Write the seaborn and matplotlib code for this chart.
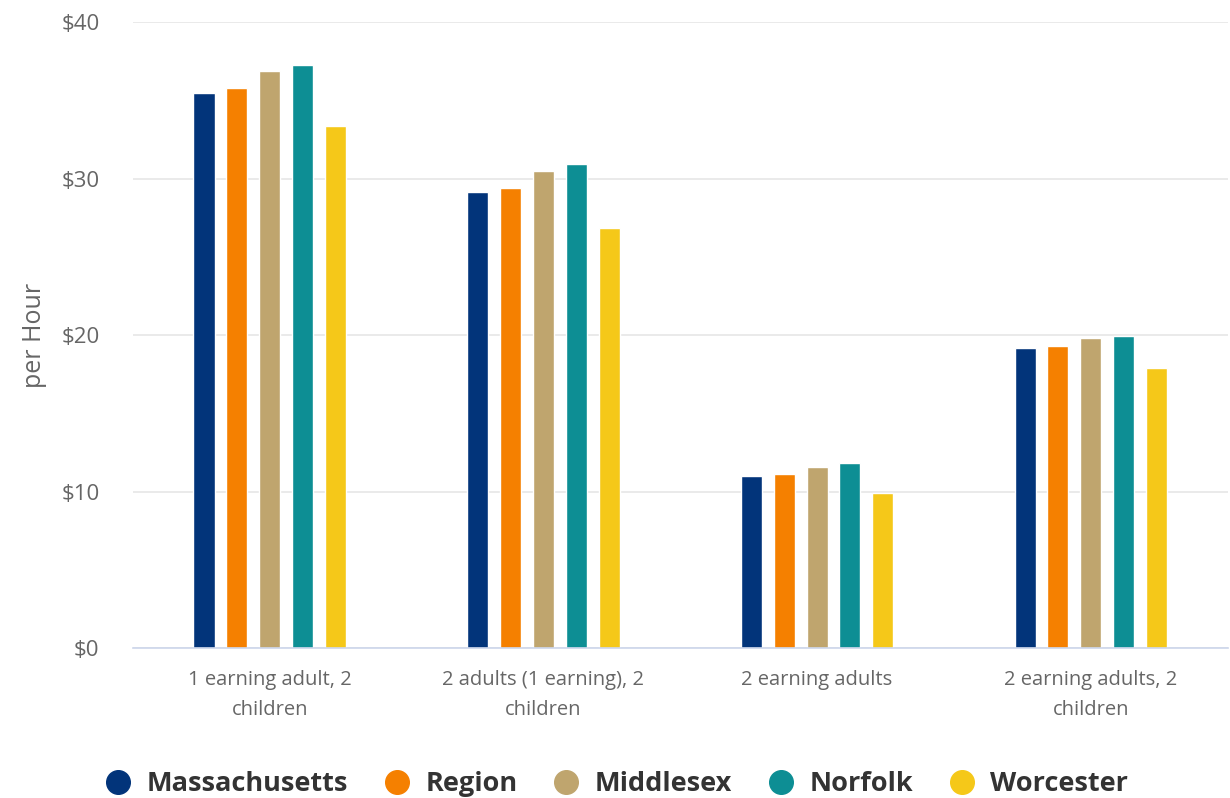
"""Grouped bar chart: hourly living wage by household type and area."""

import matplotlib

matplotlib.use("Agg")
import matplotlib.pyplot as plt
import matplotlib.ticker as mticker
from matplotlib.lines import Line2D
import pandas as pd
import seaborn as sns

households = [
    "1 earning adult, 2\nchildren",
    "2 adults (1 earning), 2\nchildren",
    "2 earning adults",
    "2 earning adults, 2\nchildren",
]
areas = ["Massachusetts", "Region", "Middlesex", "Norfolk", "Worcester"]

massachusetts = [35.5, 29.15, 11.0, 19.15]
region = [35.8, 29.4, 11.1, 19.3]
middlesex = [36.9, 30.5, 11.55, 19.8]
norfolk = [37.3, 30.95, 11.8, 19.95]
worcester = [33.35, 26.85, 9.9, 17.9]

y_ticks = [0, 10, 20, 30, 40]

colors = ["#02347A", "#F58000", "#BFA56E", "#0D8E94", "#F5C819"]

series = [massachusetts, region, middlesex, norfolk, worcester]
rows = []
for area, vals in zip(areas, series):
    for hh, v in zip(households, vals):
        rows.append({"household": hh, "area": area, "wage": v})
df = pd.DataFrame(rows)

sns.set_style("white")
plt.rcParams["font.family"] = ["Open Sans", "DejaVu Sans"]

fig = plt.figure(figsize=(12.3, 7.98), dpi=100)
ax = fig.add_axes([0.108, 0.188, 0.89, 0.784])

sns.barplot(
    data=df,
    x="household",
    y="wage",
    hue="area",
    hue_order=areas,
    order=households,
    palette=colors,
    width=0.6,
    gap=0.36,
    saturation=1,
    errorbar=None,
    legend=False,
    ax=ax,
)

ax.set_ylim(0, 40)
ax.set_xlim(-0.5, len(households) - 0.5)
ax.set_yticks(y_ticks)
ax.yaxis.set_major_formatter(mticker.FuncFormatter(lambda v, _: f"${v:.0f}"))
ax.grid(axis="y", color="#e6e6e6", linewidth=1.2)
ax.set_axisbelow(True)

for side in ["top", "right", "left"]:
    ax.spines[side].set_visible(False)
ax.spines["bottom"].set_color("#ccd6eb")
ax.spines["bottom"].set_linewidth(1.2)

ax.tick_params(axis="y", length=0, labelsize=16, labelcolor="#666666", pad=24)
ax.tick_params(axis="x", length=0, labelsize=14.5, labelcolor="#666666", pad=16)
for lbl in ax.get_xticklabels():
    lbl.set_linespacing(1.65)

# category boundary tick marks
ax.set_xticks([i - 0.5 for i in range(len(households) + 1)], minor=True)
ax.tick_params(axis="x", which="minor", length=19, color="#ccd6eb", width=1.2)

ax.set_xlabel("")
ax.set_ylabel("per Hour", fontsize=18, color="#666666", labelpad=10)

handles = [
    Line2D([], [], marker="o", linestyle="", markersize=17, color=c) for c in colors
]
fig.legend(
    handles,
    areas,
    loc="center",
    bbox_to_anchor=(0.5, 0.0175),
    ncol=5,
    frameon=False,
    prop={"size": 19.5, "weight": "bold"},
    labelcolor="#333333",
    handletextpad=0.45,
    columnspacing=1.2,
    handlelength=1.2,
)

fig.savefig("out.png", dpi=100)
plt.close(fig)
